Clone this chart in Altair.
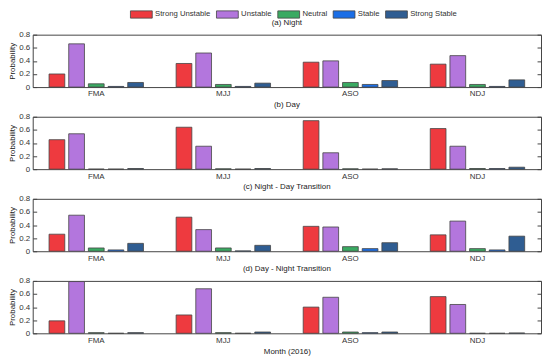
import altair as alt
import pandas as pd

months = ["FMA", "MJJ", "ASO", "NDJ"]
classes = ["Strong Unstable", "Unstable", "Neutral", "Stable", "Strong Stable"]
colors = ["#ee3a3f", "#b376dd", "#3aaa62", "#1b6ee6", "#2f5d92"]

panel_titles = ["(a) Night", "(b) Day", "(c) Night - Day Transition", "(d) Day - Night Transition"]

# values[panel][month] = [Strong Unstable, Unstable, Neutral, Stable, Strong Stable]
night = [
    [0.20, 0.66, 0.05, 0.01, 0.07],
    [0.36, 0.52, 0.04, 0.01, 0.06],
    [0.38, 0.40, 0.07, 0.04, 0.10],
    [0.35, 0.48, 0.04, 0.01, 0.11],
]
day = [
    [0.45, 0.54, 0.00, 0.00, 0.01],
    [0.64, 0.35, 0.005, 0.00, 0.01],
    [0.74, 0.25, 0.005, 0.00, 0.005],
    [0.62, 0.35, 0.01, 0.01, 0.03],
]
night_day = [
    [0.26, 0.55, 0.05, 0.02, 0.12],
    [0.52, 0.33, 0.05, 0.005, 0.09],
    [0.38, 0.37, 0.07, 0.04, 0.13],
    [0.25, 0.46, 0.04, 0.02, 0.23],
]
day_night = [
    [0.19, 0.79, 0.01, 0.00, 0.01],
    [0.28, 0.68, 0.01, 0.00, 0.02],
    [0.40, 0.55, 0.02, 0.01, 0.02],
    [0.56, 0.44, 0.00, 0.00, 0.005],
]
panels = [night, day, night_day, day_night]

FONT = "Liberation Sans"
W, H = 514, 53


def panel_chart(i, vals):
    rows = []
    for mi, m in enumerate(months):
        for ci, c in enumerate(classes):
            rows.append({"month": m, "cls": c, "value": vals[mi][ci]})
    df = pd.DataFrame(rows)
    last = i == len(panels) - 1
    x = alt.X(
        "month:N",
        sort=months,
        scale=alt.Scale(paddingInner=0.226, paddingOuter=0.113),
        axis=alt.Axis(
            title="Month (2016)" if last else None,
            labelAngle=0,
            ticks=False,
            domain=False,
            labelPadding=3,
            titlePadding=3,
        ),
    )
    xo = alt.XOffset(
        "cls:N", sort=classes, scale=alt.Scale(paddingInner=0.2, paddingOuter=0.1)
    )
    yscale = alt.Scale(domain=[0, 0.8], nice=False)
    ticks = [0, 0.2, 0.4, 0.6, 0.8]
    color = alt.Color(
        "cls:N",
        sort=classes,
        scale=alt.Scale(domain=classes, range=colors),
        legend=alt.Legend(
            title=None,
            orient="none",
            legendX=98,
            legendY=-25,
            padding=0,
            direction="horizontal",
            symbolType="M-1,-1H5V1H-1Z",
            symbolSize=54,
            symbolStrokeColor="#444",
            symbolStrokeWidth=0.8,
            symbolOpacity=1,
            labelFontSize=7.8,
            labelFont=FONT,
            labelColor="#333",
            labelOffset=16.7,
            columnPadding=4,
        ),
    )
    bars = alt.Chart(df).mark_bar(stroke="#444", strokeWidth=0.8, opacity=1).encode(
        x=x,
        xOffset=xo,
        y=alt.Y(
            "value:Q",
            scale=yscale,
            axis=alt.Axis(
                title="Probability",
                values=ticks,
                labelExpr="datum.value == 0 ? '0' : format(datum.value, '.1f')",
                grid=False,
                domain=False,
                tickSize=4,
                offset=-4,
                labelPadding=3,
                titlePadding=2,
                tickColor="#444",
            ),
        ),
        color=color,
    )
    right = alt.Chart(df).mark_bar(opacity=0).encode(
        x=x,
        xOffset=xo,
        y=alt.Y(
            "value:Q",
            scale=yscale,
            axis=alt.Axis(
                title=None,
                orient="right",
                values=ticks,
                labels=False,
                grid=False,
                domain=False,
                tickSize=4,
                offset=-4,
                tickColor="#444",
            ),
        ),
    )
    return (
        alt.layer(bars, right)
        .resolve_axis(y="independent")
        .properties(
            width=W,
            height=H,
            title=alt.TitleParams(
                panel_titles[i], fontSize=8, font=FONT, fontWeight="normal",
                color="#222", offset=4, frame="group",
            ),
        )
    )


chart = (
    alt.vconcat(*[panel_chart(i, p) for i, p in enumerate(panels)], spacing=1)
    .properties(padding=0)
    .configure_view(stroke="#444", strokeWidth=1)
    .configure_axis(
        labelFont=FONT,
        titleFont=FONT,
        labelFontSize=8,
        titleFontSize=8,
        labelColor="#333",
        titleColor="#222",
        titleFontWeight="normal",
    )
)

chart.save("out.html", embed_options={"renderer": "svg", "actions": False})
